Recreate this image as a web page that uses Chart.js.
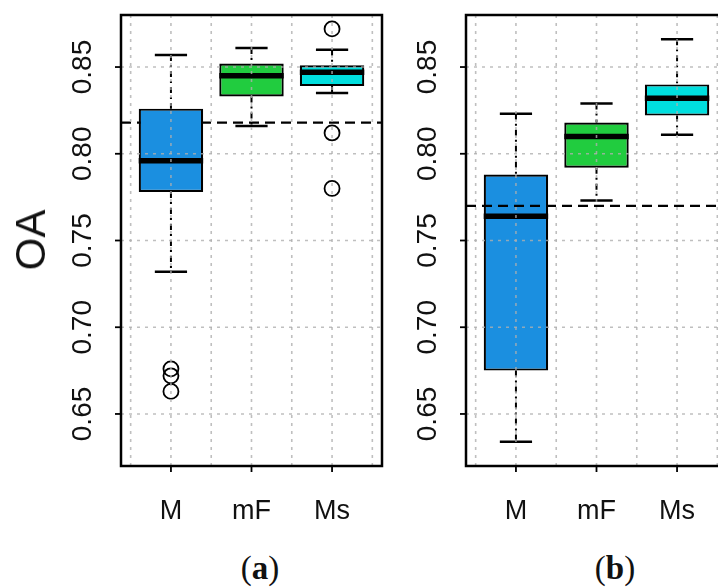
<!DOCTYPE html>
<html>
<head>
<meta charset="utf-8">
<script src="https://cdn.jsdelivr.net/npm/chart.js@4.4.0/dist/chart.umd.min.js"></script>
<style>
  html, body { margin: 0; padding: 0; background: #fff; overflow: hidden; }
  body { width: 718px; height: 588px; position: relative; }
  canvas { position: absolute; top: 0; }
  #chartA { left: 0; }
  #chartB { left: 360px; }
  .axisTitle {
    position: absolute; left: 31px; top: 240px;
    font-family: "Liberation Sans", Arial, sans-serif; font-size: 42px; color: #111;
    transform: translate(-50%, -50%) rotate(-90deg); white-space: nowrap;
  }
  .panelTag {
    position: absolute; top: 568px;
    font-family: "Liberation Serif", "DejaVu Serif", serif; font-size: 33px; color: #111;
    transform: translate(-50%, -50%); white-space: nowrap;
  }
</style>
</head>
<body>
<canvas id="chartA" width="400" height="540"></canvas>
<canvas id="chartB" width="400" height="540"></canvas>
<div class="axisTitle">OA</div>
<div class="panelTag" style="left:260px">(<b>a</b>)</div>
<div class="panelTag" style="left:615px">(<b>b</b>)</div>

<script>
// categories and ticks
const groups = ["M", "mF", "Ms"];
const yTicks = [0.65, 0.70, 0.75, 0.80, 0.85];
const yTickLabels = ["0.65", "0.70", "0.75", "0.80", "0.85"];
const boxColors = ["#1b8fe0", "#21cc3f", "#00dede"];

// panel (a)
const aLow = [0.732, 0.816, 0.835];
const aQ1 = [0.778, 0.833, 0.839];
const aMed = [0.796, 0.845, 0.847];
const aQ3 = [0.826, 0.852, 0.851];
const aHigh = [0.857, 0.861, 0.860];
const aOutliers = [[0.676, 0.672, 0.663], [], [0.872, 0.812, 0.780]];
const aRef = 0.818;

// panel (b)
const bLow = [0.634, 0.773, 0.811];
const bQ1 = [0.675, 0.792, 0.822];
const bMed = [0.764, 0.810, 0.832];
const bQ3 = [0.788, 0.818, 0.840];
const bHigh = [0.823, 0.829, 0.866];
const bOutliers = [[], [], []];
const bRef = 0.770;

// whiskers, medians, grid, frame and tick labels drawn from the scales
const boxExtras = {
    id: "boxExtras",
    beforeDatasetsDraw(chart, args, o) {
        const { ctx, scales: { x, y } } = chart;
        ctx.save();
        ctx.strokeStyle = "#000";
        groups.forEach((g, i) => {
            const px = x.getPixelForValue(i + 1);
            ctx.lineWidth = 2;
            ctx.setLineDash([6, 4, 2, 4]);
            ctx.beginPath();
            ctx.moveTo(px, y.getPixelForValue(o.high[i]));
            ctx.lineTo(px, y.getPixelForValue(o.q3[i]));
            ctx.moveTo(px, y.getPixelForValue(o.q1[i]));
            ctx.lineTo(px, y.getPixelForValue(o.low[i]));
            ctx.stroke();

            // caps
            ctx.setLineDash([]);
            ctx.lineWidth = 2.5;
            const l = x.getPixelForValue(i + 0.8), r = x.getPixelForValue(i + 1.2);
            [o.high[i], o.low[i]].forEach(v => {
                const py = y.getPixelForValue(v);
                ctx.beginPath();
                ctx.moveTo(l, py);
                ctx.lineTo(r, py);
                ctx.stroke();
            });
        });
        if (!o.refOnTop) drawRef(chart, o.ref);
        ctx.restore();
    },
    afterDatasetsDraw(chart, args, o) {
        const { ctx, chartArea: area, scales: { x, y } } = chart;
        ctx.save();

        // medians
        ctx.strokeStyle = "#000";
        ctx.lineWidth = 5.5;
        groups.forEach((g, i) => {
            const py = y.getPixelForValue(o.med[i]);
            ctx.beginPath();
            ctx.moveTo(x.getPixelForValue(i + 0.6), py);
            ctx.lineTo(x.getPixelForValue(i + 1.4), py);
            ctx.stroke();
        });

        // dotted grid on top
        ctx.strokeStyle = "rgba(175,175,175,0.8)";
        ctx.lineWidth = 1.6;
        ctx.setLineDash([3, 5]);
        for (let v = 0.5; v <= groups.length + 0.5; v += 0.5) {
            const px = x.getPixelForValue(v);
            ctx.beginPath();
            ctx.moveTo(px, area.top);
            ctx.lineTo(px, area.bottom);
            ctx.stroke();
        }
        yTicks.forEach(v => {
            const py = y.getPixelForValue(v);
            ctx.beginPath();
            ctx.moveTo(area.left, py);
            ctx.lineTo(area.right, py);
            ctx.stroke();
        });
        ctx.setLineDash([]);

        if (o.refOnTop) drawRef(chart, o.ref);

        // frame and ticks
        ctx.strokeStyle = "#000";
        ctx.lineWidth = 2.5;
        ctx.strokeRect(area.left, area.top, area.right - area.left, area.bottom - area.top);
        ctx.lineWidth = 1.8;
        ctx.fillStyle = "#111";
        ctx.font = "28px 'Liberation Sans', Arial, sans-serif";
        ctx.textAlign = "center";
        ctx.textBaseline = "middle";
        yTicks.forEach((v, i) => {
            const py = y.getPixelForValue(v);
            ctx.beginPath();
            ctx.moveTo(area.left - 6, py);
            ctx.lineTo(area.left, py);
            ctx.stroke();
            ctx.save();
            ctx.translate(area.left - 38, py);
            ctx.rotate(-Math.PI / 2);
            ctx.fillText(yTickLabels[i], 0, 0);
            ctx.restore();
        });
        ctx.font = "27px 'Liberation Sans', Arial, sans-serif";
        groups.forEach((g, i) => {
            const px = x.getPixelForValue(i + 1);
            ctx.beginPath();
            ctx.moveTo(px, area.bottom);
            ctx.lineTo(px, area.bottom + 6);
            ctx.stroke();
            ctx.fillText(g, px, area.bottom + 46);
        });
        ctx.restore();
    }
};

function drawRef(chart, value) {
    const { ctx, chartArea: area, scales: { y } } = chart;
    const py = y.getPixelForValue(value);
    ctx.save();
    ctx.strokeStyle = "#000";
    ctx.lineWidth = 2.2;
    ctx.setLineDash([10, 6]);
    ctx.beginPath();
    ctx.moveTo(area.left, py);
    ctx.lineTo(area.right, py);
    ctx.stroke();
    ctx.restore();
}

function makeBoxChart(id, low, q1, med, q3, high, outliers, ref, refOnTop, pad) {
    const outlierPoints = [];
    outliers.forEach((list, i) => list.forEach(v => outlierPoints.push({ x: i + 1, y: v })));

    return new Chart(document.getElementById(id), {
        type: "bar",
        data: {
            datasets: [{
                type: "scatter",
                data: outlierPoints,
                pointRadius: 7.5,
                pointBorderWidth: 1.8,
                borderColor: "#000",
                backgroundColor: "rgba(0,0,0,0)"
            }, {
                data: groups.map((g, i) => ({ x: i + 1, y: [q1[i], q3[i]] })),
                backgroundColor: boxColors,
                borderColor: "#000",
                borderWidth: 2.2,
                borderSkipped: false,
                barPercentage: 0.8,
                categoryPercentage: 1
            }]
        },
        options: {
            responsive: false,
            animation: false,
            layout: { padding: pad },
            plugins: {
                legend: { display: false },
                tooltip: { enabled: false },
                boxExtras: { low, q1, med, q3, high, ref, refOnTop }
            },
            scales: {
                x: {
                    type: "linear", min: 0.38, max: 3.62, offset: false, display: false,
                    afterBuildTicks: s => { s.ticks = groups.map((g, i) => ({ value: i + 1 })); }
                },
                y: { type: "linear", min: 0.62, max: 0.88, display: false }
            }
        },
        plugins: [boxExtras]
    });
}

makeBoxChart("chartA", aLow, aQ1, aMed, aQ3, aHigh, aOutliers, aRef, false,
    { left: 121, top: 15, right: 18, bottom: 74 });
makeBoxChart("chartB", bLow, bQ1, bMed, bQ3, bHigh, bOutliers, bRef, true,
    { left: 106, top: 15, right: 33, bottom: 74 });
</script>
</body>
</html>
